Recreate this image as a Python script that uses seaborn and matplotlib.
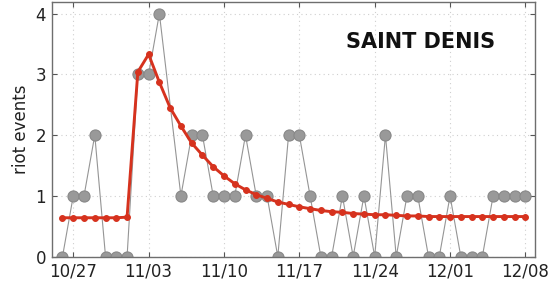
import numpy as np
import pandas as pd
import matplotlib
matplotlib.use("Agg")
import matplotlib.pyplot as plt
import matplotlib.dates as mdates
import seaborn as sns

start_date = "2005-10-26"
n_days = 44
observed = [0, 1, 1, 2, 0, 0, 0, 3, 3, 4, np.nan, 1, 2, 2, 1, 1, 1, 2, 1, 1, 0, 2,
            2, 1, 0, 0, 1, 0, 1, 0, 2, 0, 1, 1, 0, 0, 1, 0, 0, 0, 1, 1, 1, 1]
model = [0.64, 0.64, 0.64, 0.64, 0.64, 0.64, 0.65, 3.04, 3.33, 2.87, 2.45, 2.15,
         1.87, 1.67, 1.48, 1.33, 1.20, 1.10, 1.02, 0.96, 0.90, 0.86, 0.82, 0.79,
         0.76, 0.74, 0.73, 0.71, 0.70, 0.69, 0.69, 0.68, 0.67, 0.67, 0.66, 0.66,
         0.66, 0.66, 0.66, 0.66, 0.66, 0.66, 0.66, 0.66]
tick_dates = ["2005-10-27", "2005-11-03", "2005-11-10", "2005-11-17",
              "2005-11-24", "2005-12-01", "2005-12-08"]
title = "SAINT DENIS"
ylabel = "riot events"

dates = pd.date_range(start_date, periods=n_days, freq="D")
df = pd.DataFrame({"date": dates, "observed": observed, "model": model})
obs = df.dropna(subset=["observed"])

sns.set_style("white")
plt.rcParams["font.family"] = ["DejaVu Sans"]

fig = plt.figure(figsize=(5.52, 2.94), dpi=100)
ax = fig.add_axes([0.0937, 0.127, 0.876, 0.866])

sns.lineplot(data=obs, x="date", y="observed", ax=ax, color="#959595",
             linewidth=0.8, marker="o", markersize=8.0,
             markerfacecolor="#999999", markeredgecolor="#888888",
             markeredgewidth=0.8, zorder=2)
sns.lineplot(data=df, x="date", y="model", ax=ax, color="#d6321e",
             linewidth=2.1, marker="o", markersize=4.2,
             markerfacecolor="#d6321e", markeredgecolor="#d6321e", zorder=3)

ax.set_xlim(pd.Timestamp("2005-10-25"), pd.Timestamp("2005-12-09") - pd.Timedelta(hours=2))
ax.set_ylim(0, 4.19)
ticks = pd.to_datetime(tick_dates)
ax.set_xticks(ticks)
ax.xaxis.set_major_formatter(mdates.DateFormatter("%m/%d"))
ax.set_yticks([0, 1, 2, 3, 4])
ax.set_xlabel("")
ax.set_ylabel(ylabel, fontsize=12, color="#222222", labelpad=4)
ax.tick_params(axis="both", direction="in", length=3.5, width=0.8,
               colors="#555555", labelcolor="#222222", labelsize=12,
               top=True, right=True, bottom=True, left=True, pad=4)
ax.grid(True, linestyle=(0, (1, 3)), color="#cfcfcf", linewidth=0.8)
for s in ax.spines.values():
    s.set_color("#6e6e6e")
    s.set_linewidth(1.0)
    s.set_visible(True)

ax.text(0.762, 0.843, title, transform=ax.transAxes, ha="center", va="center",
        fontsize=15, fontweight="bold", color="#111111")

fig.savefig("out.png", dpi=100)
